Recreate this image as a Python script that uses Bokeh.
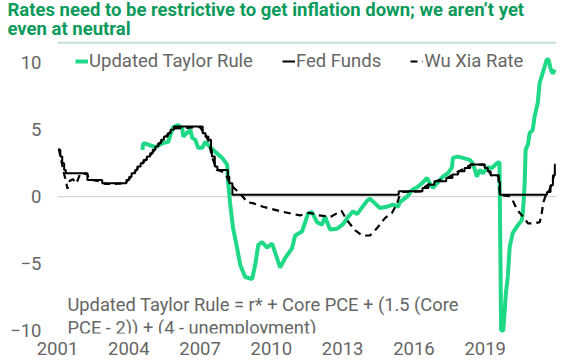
from bokeh.plotting import figure
from bokeh.models import (Range1d, FixedTicker, Span, Label, Legend, LegendItem, Title,
                          CustomJSTickFormatter)
from bokeh.embed import file_html
from bokeh.resources import INLINE

title_lines = ["Rates need to be restrictive to get inflation down; we aren\u2019t yet",
               "even at neutral"]
note_lines = ["Updated Taylor Rule = r* + Core PCE + (1.5 (Core",
              "PCE - 2)) + (4 - unemployment)"]
series_names = ["Updated Taylor Rule", "Fed Funds", "Wu Xia Rate"]
x_tick_years = [2001, 2004, 2007, 2010, 2013, 2016, 2019]
y_ticks = [-10, -5, 0, 5, 10]

taylor_t = [2005.17, 2005.21, 2005.42, 2005.72, 2006.01, 2006.26, 2006.35, 2006.47, 2006.68, 2006.85,
            2006.89, 2007.06, 2007.19, 2007.27, 2007.40, 2007.52, 2007.69, 2007.82, 2008.03, 2008.24,
            2008.53, 2008.74, 2008.78, 2008.87, 2008.99, 2009.16, 2009.29, 2009.50, 2009.79, 2009.92,
            2010.05, 2010.21, 2010.42, 2010.63, 2010.84, 2010.97, 2011.18, 2011.47, 2011.60, 2011.89,
            2012.15, 2012.31, 2012.52, 2012.73, 2012.86, 2013.07, 2013.36, 2013.62, 2013.83, 2014.04,
            2014.21, 2014.42, 2014.63, 2014.75, 2014.96, 2015.17, 2015.47, 2015.72, 2015.93, 2016.01,
            2016.31, 2016.52, 2016.73, 2016.94, 2017.15, 2017.27, 2017.40, 2017.57, 2017.82, 2018.03,
            2018.20, 2018.24, 2018.45, 2018.66, 2018.95, 2019.08, 2019.25, 2019.37, 2019.50, 2019.71,
            2019.88, 2020.09, 2020.20, 2020.27, 2020.36, 2020.40, 2020.47, 2020.55, 2020.63, 2020.76,
            2020.93, 2021.14, 2021.18, 2021.22, 2021.26, 2021.30, 2021.40, 2021.47, 2021.60, 2021.68,
            2021.81, 2021.89, 2022.02, 2022.19, 2022.27, 2022.36, 2022.45, 2022.53]
taylor_v = [3.5, 4.0, 3.9, 3.7, 4.0, 4.1, 4.6, 5.2, 5.35, 5.1,
            4.5, 4.8, 5.0, 4.4, 4.25, 3.65, 3.65, 4.1, 3.7, 3.35,
            2.9, 2.4, 1.1, -0.6, -2.35, -3.85, -5.1, -6.0, -6.15, -5.1,
            -3.6, -3.4, -3.8, -3.5, -4.6, -5.3, -4.6, -3.85, -2.9, -2.6,
            -1.25, -1.15, -1.9, -2.1, -1.5, -2.45, -2.4, -2.05, -1.5, -1.1,
            -1.3, -0.8, -0.3, -0.15, -0.5, -0.85, -0.75, -0.6, -0.75, -0.4,
            0.0, 0.5, 0.7, 1.0, 1.4, 1.0, 0.65, 1.0, 1.5, 1.75,
            2.2, 2.9, 3.0, 2.9, 2.75, 2.5, 1.5, 2.0, 1.75, 2.2,
            2.15, 2.5, 2.6, -10.0, -10.0, -9.0, -7.2, -6.0, -3.75, -2.7,
            -2.25, -1.75, -1.25, -0.25, 1.0, 3.5, 3.9, 4.75, 5.0, 6.0,
            7.0, 8.5, 9.25, 10.25, 10.25, 9.5, 9.2, 9.5]

ff_t = [2001.65, 2001.72, 2001.80, 2001.88, 2001.95, 2002.86, 2003.48, 2004.50, 2004.62, 2004.72,
        2004.87, 2004.96, 2005.10, 2005.22, 2005.36, 2005.50, 2005.61, 2005.72, 2005.84, 2005.96,
        2006.08, 2006.24, 2006.36, 2006.50, 2007.71, 2007.83, 2007.95, 2008.06, 2008.10, 2008.22,
        2008.33, 2008.77, 2008.83, 2008.96, 2015.96, 2016.96, 2017.21, 2017.46, 2017.96, 2018.22,
        2018.46, 2018.73, 2018.97, 2019.58, 2019.71, 2019.83, 2020.17, 2020.22, 2022.20, 2022.35,
        2022.45, 2022.53, 2022.56]
ff_v = [3.5, 3.0, 2.5, 2.0, 1.75, 1.25, 1.0, 1.25, 1.5, 1.75,
        2.0, 2.25, 2.5, 2.75, 3.0, 3.25, 3.5, 3.75, 4.0, 4.25,
        4.5, 4.75, 5.0, 5.25, 4.75, 4.5, 4.25, 3.5, 3.0, 2.25,
        2.0, 1.5, 1.0, 0.15, 0.4, 0.65, 0.9, 1.15, 1.4, 1.65,
        1.9, 2.15, 2.4, 2.15, 1.9, 1.6, 1.1, 0.15, 0.35, 0.85,
        1.6, 2.4, 2.4]

wx_t = [2001.65, 2001.75, 2001.85, 2001.95, 2002.02, 2002.12, 2002.25, 2002.40, 2002.55, 2002.85,
        2002.92, 2003.50, 2003.60, 2004.00, 2004.45, 2004.70, 2005.00, 2005.50, 2006.00, 2006.50,
        2007.60, 2007.75, 2007.95, 2008.10, 2008.30, 2008.50, 2008.70, 2008.85, 2009.00, 2009.20,
        2009.40, 2009.58, 2009.85, 2010.25, 2011.00, 2011.80, 2012.20, 2012.60, 2013.10, 2013.55,
        2013.78, 2014.12, 2014.42, 2014.75, 2015.05, 2015.38, 2015.68, 2015.89, 2016.00, 2016.10,
        2016.90, 2017.00, 2017.20, 2017.50, 2018.00, 2018.25, 2018.50, 2018.75, 2019.00, 2019.55,
        2019.62, 2019.75, 2019.85, 2020.15, 2020.22, 2020.60, 2020.75, 2020.95, 2021.20, 2021.40,
        2021.65, 2021.90, 2021.98, 2022.05, 2022.15, 2022.30, 2022.40, 2022.50]
wx_v = [3.6, 2.8, 1.9, 1.2, 0.6, 1.2, 1.3, 1.0, 1.7, 1.7,
        1.3, 1.1, 0.95, 0.95, 1.0, 1.5, 2.2, 3.1, 4.2, 5.1,
        5.2, 4.8, 4.2, 3.0, 2.0, 1.9, 1.6, 1.0, 0.7, 0.35,
        0.0, -0.4, -0.5, -0.75, -1.1, -1.4, -1.2, -1.4, -1.5, -1.05,
        -1.75, -2.5, -2.9, -2.9, -2.35, -1.6, -1.2, -0.5, 0.1, 0.35,
        0.4, 0.65, 0.9, 1.15, 1.4, 1.65, 1.9, 2.15, 2.4, 2.4,
        2.15, 1.9, 1.6, 1.55, 0.1, 0.05, -0.25, -1.0, -1.5, -2.0,
        -2.0, -1.9, -1.2, -0.4, 0.1, 0.5, 1.0, 1.6]

GREEN = "#1fd986"
TITLE_GREEN = "#0a9b5c"
GRAY = "#666666"
FONT = "Roboto"
W, H = 564, 360

# layout constants (pixels)
FRAME_LEFT = 57
TOP_EST = 38.2          # height of the two title rows
BOTTOM = 27
PX_PER_UNIT = 13.325
Y10_PX = 63.5
SEP_PX = 43.5
frame_bottom_px = H - BOTTOM
y_max = 10 + (Y10_PX - TOP_EST) / PX_PER_UNIT
y_min = y_max - (frame_bottom_px - TOP_EST) / PX_PER_UNIT

p = figure(width=W, height=H, output_backend="svg", toolbar_location=None, title=None,
           x_range=Range1d(2001.6, 2022.6), y_range=Range1d(y_min, y_max),
           min_border_left=FRAME_LEFT, min_border_right=8, min_border_top=0,
           min_border_bottom=BOTTOM)
p.outline_line_color = None
p.xgrid.visible = False
p.ygrid.visible = False

# titles (above panel, shifted left to the page edge)
p.add_layout(Title(text=title_lines[1], align="left", offset=7 - FRAME_LEFT, standoff=-7.8,
                   vertical_align="top",
                   text_font=FONT, text_font_style="bold", text_font_size="18.5px",
                   text_color=TITLE_GREEN), "above")
p.add_layout(Title(text=title_lines[0], align="left", offset=7 - FRAME_LEFT, standoff=-3,
                   vertical_align="top",
                   text_font=FONT, text_font_style="bold", text_font_size="18.5px",
                   text_color=TITLE_GREEN), "above")

p.add_layout(Span(location=0, dimension="width", line_color="#cccccc", line_width=1, level="underlay"))
# rule under the title
p.add_layout(Span(location=10 + (Y10_PX - SEP_PX) / PX_PER_UNIT, dimension="width",
                  line_color="#bfe0d3", line_width=2, level="overlay"))

r_taylor = p.line(taylor_t, taylor_v, line_color=GREEN, line_width=4)
r_ff = p.step(ff_t, ff_v, mode="after", line_color="black", line_width=2)
r_wx = p.line(wx_t, wx_v, line_color="black", line_width=2.2, line_dash="7 5")

for ax in (p.xaxis[0], p.yaxis[0]):
    ax.axis_line_color = None
    ax.major_tick_line_color = None
    ax.minor_tick_line_color = None
    ax.major_tick_out = 0
    ax.major_tick_in = 0
    ax.major_label_text_font = FONT
    ax.major_label_text_font_size = "18.5px"
    ax.major_label_text_color = GRAY

p.xaxis.ticker = FixedTicker(ticks=[y + 0.6 for y in x_tick_years])
p.xaxis.formatter = CustomJSTickFormatter(code="return Math.floor(tick).toString();")
p.xaxis.major_label_standoff = 8
p.xaxis.major_label_text_line_height = 0.55
p.yaxis.ticker = FixedTicker(ticks=y_ticks)
p.yaxis.major_label_standoff = 16

legend = Legend(items=[LegendItem(label=series_names[0], renderers=[r_taylor]),
                       LegendItem(label=series_names[1], renderers=[r_ff]),
                       LegendItem(label=series_names[2], renderers=[r_wx])],
                orientation="horizontal",
                location=(75 - FRAME_LEFT, frame_bottom_px - 58.5 - 13),
                glyph_width=13, glyph_height=20, label_standoff=1, spacing=29,
                padding=0, margin=0, border_line_alpha=0, background_fill_alpha=0,
                label_text_font=FONT, label_text_font_size="18.5px", label_text_color=GRAY)
p.add_layout(legend)

for i, line in enumerate(note_lines):
    p.add_layout(Label(x=2002.02, y=[-8.05, -9.77][i], text=line, text_font=FONT,
                       text_font_size="18.3px", text_color=GRAY,
                       text_baseline="alphabetic", text_align="left"))

open("out.html", "w").write(file_html(p, INLINE))
